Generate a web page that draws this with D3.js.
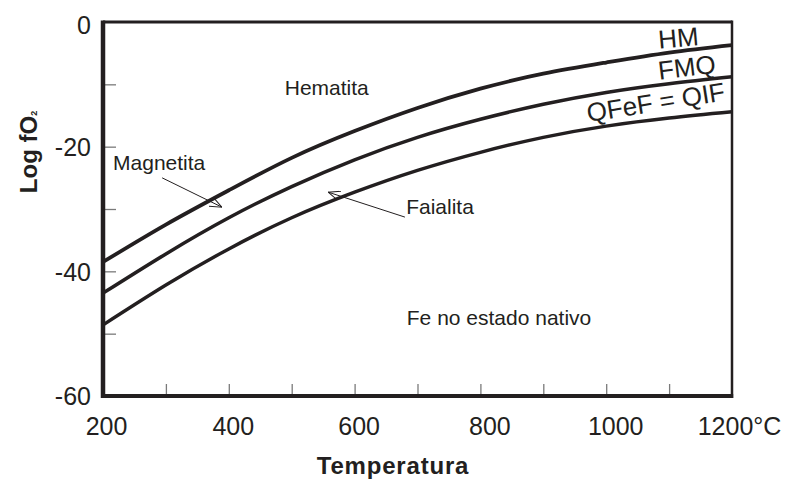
<!DOCTYPE html>
<html>
<head>
<meta charset="utf-8">
<script src="https://cdn.jsdelivr.net/npm/d3@7/dist/d3.min.js"></script>
<style>
  html, body { margin: 0; padding: 0; background: #fff; }
  svg { display: block; }
  text { font-family: "Liberation Sans", Arial, sans-serif; fill: #231f20; }
</style>
</head>
<body>
<svg id="chart" width="787" height="479"></svg>
<script>
// ---- data ----
const temperatures = [200, 300, 400, 500, 600, 700, 800, 900, 1000, 1100, 1200];
const hmValues   = [-38.5, -32.5, -27.0, -21.8, -17.5, -13.8, -10.7, -8.3, -6.5, -4.9, -3.7];
const fmqValues  = [-43.5, -37.2, -31.4, -26.4, -22.1, -18.5, -15.6, -13.2, -11.3, -9.9, -8.8];
const qfefValues = [-48.6, -42.2, -36.4, -31.4, -27.3, -23.8, -20.9, -18.5, -16.7, -15.4, -14.4];
const seriesNames = ["HM", "FMQ", "QFeF = QIF"];
const xTickValues = [200, 400, 600, 800, 1000, 1200];
const xTickLabels = ["200", "400", "600", "800", "1000", "1200°C"];
const xMinorTicks = [300, 400, 500, 600, 700, 800, 900, 1000, 1100];
const yTickValues = [0, -20, -40, -60];
const yMinorTicks = [-10, -20, -30, -40, -50];
const regionLabels = ["Hematita", "Magnetita", "Faialita", "Fe no estado nativo"];

// ---- layout ----
const svg = d3.select("#chart");
const x = d3.scaleLinear().domain([200, 1200]).range([103, 732]);
const y = d3.scaleLinear().domain([0, -60]).range([22, 396]);
const dark = "#231f20";

// minor ticks (inside)
svg.append("g")
  .attr("transform", `translate(0,${y(-60)})`)
  .call(d3.axisTop(x).tickValues(xMinorTicks).tickSize(12).tickFormat(""))
  .call(g => g.select(".domain").remove())
  .call(g => g.selectAll("line").attr("stroke", "#7a7a7a").attr("stroke-width", 1.3));
svg.append("g")
  .attr("transform", `translate(${x(200)},0)`)
  .call(d3.axisRight(y).tickValues(yMinorTicks).tickSize(13).tickFormat(""))
  .call(g => g.select(".domain").remove())
  .call(g => g.selectAll("line").attr("stroke", "#7a7a7a").attr("stroke-width", 1.3));

// tick labels
const xAxis = svg.append("g")
  .attr("transform", `translate(0,${y(-60)})`)
  .call(d3.axisBottom(x).tickValues(xTickValues).tickSize(0).tickPadding(21)
        .tickFormat((d, i) => xTickLabels[i]));
xAxis.select(".domain").remove();
xAxis.selectAll("text").attr("font-size", 25).attr("font-family", "Liberation Sans, Arial, sans-serif")
  .attr("fill", dark).attr("dy", "0.71em")
  .attr("dx", (d, i) => i === xTickLabels.length - 1 ? 7 : (i === 0 ? 3 : (i >= 3 ? 9 : 4)));

const yAxis = svg.append("g")
  .attr("transform", `translate(${x(200)},0)`)
  .call(d3.axisLeft(y).tickValues(yTickValues).tickSize(0).tickPadding(12).tickFormat(d3.format("d")));
yAxis.select(".domain").remove();
yAxis.selectAll("text").attr("font-size", 25).attr("font-family", "Liberation Sans, Arial, sans-serif")
  .attr("fill", dark).text(d => d === 0 ? "0" : "-" + Math.abs(d))
  .attr("dy", d => d === 0 ? "0.45em" : "0.35em");

// frame
svg.append("line").attr("x1", x(200)).attr("x2", x(1200)).attr("y1", y(0)).attr("y2", y(0))
  .attr("stroke", dark).attr("stroke-width", 3);
svg.append("line").attr("x1", x(1200)).attr("x2", x(1200)).attr("y1", y(0) - 1.5).attr("y2", y(-60) + 2)
  .attr("stroke", dark).attr("stroke-width", 2.5);
svg.append("line").attr("x1", x(200)).attr("x2", x(1200) + 1.2).attr("y1", y(-60)).attr("y2", y(-60))
  .attr("stroke", dark).attr("stroke-width", 4);
svg.append("line").attr("x1", x(200)).attr("x2", x(200)).attr("y1", y(0) - 1.5).attr("y2", y(-60) + 2)
  .attr("stroke", dark).attr("stroke-width", 4.5);

// curves
const line = d3.line().x(d => x(d[0])).y(d => y(d[1])).curve(d3.curveNatural);
const allSeries = [hmValues, fmqValues, qfefValues];
const widths = [3.8, 3.5, 3.4];
allSeries.forEach((vals, i) => {
  svg.append("path")
    .datum(temperatures.map((t, j) => [t, vals[j]]))
    .attr("d", line)
    .attr("fill", "none")
    .attr("stroke", dark)
    .attr("stroke-width", widths[i])
    .attr("stroke-linecap", "butt");
});

// curve labels
const curveLabelPos = [
  { t: 1116, v: -4.0, rot: -5 },
  { t: 1130, v: -8.7, rot: -7 },
  { t: 1081, v: -14.3, rot: -9 }
];
seriesNames.forEach((name, i) => {
  const p = curveLabelPos[i];
  svg.append("text")
    .attr("transform", `translate(${x(p.t)},${y(p.v)}) rotate(${p.rot})`)
    .attr("text-anchor", "middle")
    .attr("font-size", 26)
    .text(name);
});

// region labels
const regionPos = [[489, -11.7], [216, -23.7], [682, -30.8], [683, -48.6]];
regionLabels.forEach((name, i) => {
  svg.append("text")
    .attr("x", x(regionPos[i][0]))
    .attr("y", y(regionPos[i][1]))
    .attr("font-size", 21)
    .text(name);
});

// arrows
const defs = svg.append("defs");
defs.append("marker")
  .attr("id", "openArrow")
  .attr("viewBox", "0 0 12 10")
  .attr("refX", 12).attr("refY", 5)
  .attr("markerWidth", 12).attr("markerHeight", 10)
  .attr("markerUnits", "userSpaceOnUse")
  .attr("orient", "auto")
  .append("path")
  .attr("d", "M0,0 L12,5 L0,10")
  .attr("fill", "none")
  .attr("stroke", dark)
  .attr("stroke-width", 1);

const arrows = [
  [[294, -25.0], [389, -29.7]],
  [[680, -31.3], [558, -27.3]]
];
arrows.forEach(a => {
  svg.append("line")
    .attr("x1", x(a[0][0])).attr("y1", y(a[0][1]))
    .attr("x2", x(a[1][0])).attr("y2", y(a[1][1]))
    .attr("stroke", dark).attr("stroke-width", 1)
    .attr("marker-end", "url(#openArrow)");
});

// axis titles
svg.append("text")
  .attr("x", 393).attr("y", 474)
  .attr("text-anchor", "middle")
  .attr("font-size", 24).attr("font-weight", "bold")
  .attr("letter-spacing", 0.8)
  .text("Temperatura");

const yTitle = svg.append("text")
  .attr("transform", "translate(37,152) rotate(-90)")
  .attr("text-anchor", "middle")
  .attr("font-size", 24).attr("font-weight", "bold");
yTitle.append("tspan").text("Log fO");
yTitle.append("tspan").attr("font-size", 9).attr("dy", 0).text("2");
</script>
</body>
</html>
